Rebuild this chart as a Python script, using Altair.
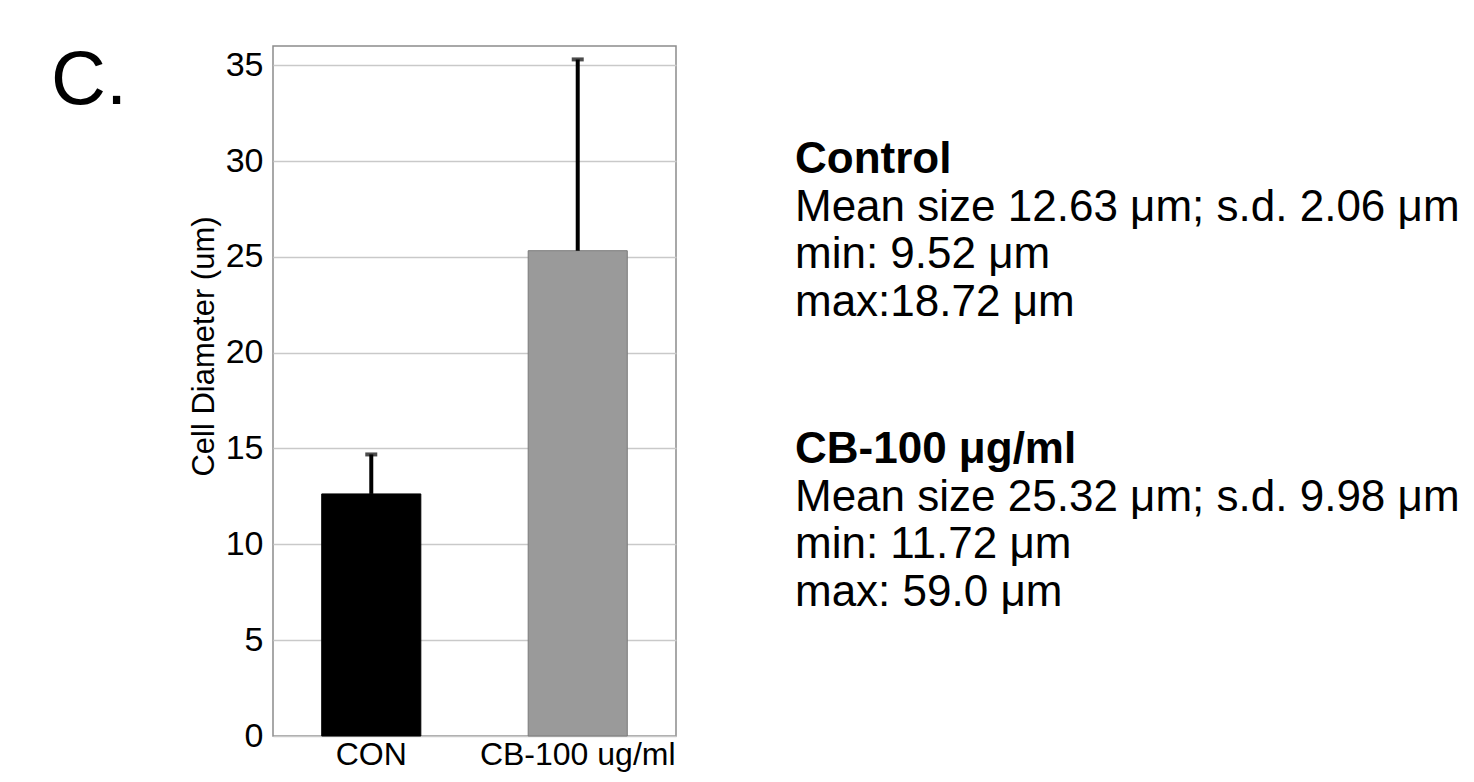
import altair as alt
import pandas as pd

# ---- data ----
groups = ["CON", "CB-100 ug/ml"]
means = [12.63, 25.32]
sds = [2.06, 9.98]
bar_colors = ["#000000", "#9a9a9a"]
bar_strokes = ["#000000", "#7a7a7a"]
y_ticks = [0, 5, 10, 15, 20, 25, 30, 35]

panel_label = "C."
control_title = "Control"
control_lines = ["Mean size 12.63 μm; s.d. 2.06 μm", "min: 9.52 μm", "max:18.72 μm"]
cb_title = "CB-100 μg/ml"
cb_lines = ["Mean size 25.32 μm; s.d. 9.98 μm", "min: 11.72 μm", "max: 59.0 μm"]

df = pd.DataFrame({
    "group": groups,
    "mean": means,
    "sd": sds,
    "color": bar_colors,
    "stroke": bar_strokes,
})
df["upper"] = df["mean"] + df["sd"]

SANS = "Liberation Sans, Arial, Helvetica"

x_enc = alt.X(
    "group:N",
    sort=groups,
    scale=alt.Scale(paddingInner=0.52, paddingOuter=0.236),
    axis=alt.Axis(
        title=None, labelAngle=0, ticks=False, tickSize=0, domain=False,
        labelFont=SANS, labelFontSize=32, labelColor="#000000",
        labelPadding=3, labelBaseline="top", labelLimit=0,
    ),
)
y_scale = alt.Scale(domain=[0, 36], nice=False, zero=True)

bars = alt.Chart(df).mark_bar(strokeWidth=1).encode(
    x=x_enc,
    y=alt.Y(
        "mean:Q",
        scale=y_scale,
        axis=alt.Axis(
            values=y_ticks, grid=True, gridColor="#c9c9c9", gridWidth=1.5,
            ticks=False, domain=False,
            labelFont=SANS, labelFontSize=34, labelColor="#000000",
            labelPadding=10, labelBaseline="middle",
            title="Cell Diameter (um)", titleFont=SANS, titleFontSize=31,
            titleFontWeight="normal", titleColor="#000000",
            titleAngle=270, titleX=-60, titleY=300, titleAlign="center",
            titleBaseline="alphabetic",
        ),
    ),
    fill=alt.Color("color:N", scale=None),
    stroke=alt.Color("stroke:N", scale=None),
)

err = alt.Chart(df).mark_rule(color="#000000", strokeWidth=4).encode(
    x=alt.X("group:N", sort=groups),
    y=alt.Y("mean:Q", scale=y_scale),
    y2="upper:Q",
)

caps = alt.Chart(df).mark_tick(color="#000000", size=12, thickness=4).encode(
    x=alt.X("group:N", sort=groups),
    y=alt.Y("upper:Q", scale=y_scale),
)

label_df = pd.DataFrame({"t": [panel_label]})
panel = alt.Chart(label_df).mark_text(
    font=SANS, fontSize=76, align="left", baseline="alphabetic", color="#000000"
).encode(text="t:N", x=alt.value(-222), y=alt.value(58))

def block(title, lines, y_title):
    tdf = pd.DataFrame({"t": [title]})
    ldf = pd.DataFrame({"t": ["\n".join(lines)]})
    head = alt.Chart(tdf).mark_text(
        font=SANS, fontSize=44, fontWeight="bold", align="left",
        baseline="alphabetic", color="#000000",
    ).encode(text="t:N", x=alt.value(522), y=alt.value(y_title))
    body = alt.Chart(ldf).mark_text(
        font=SANS, fontSize=44, align="left", baseline="alphabetic",
        color="#000000", lineBreak="\n", lineHeight=47.5,
    ).encode(text="t:N", x=alt.value(522), y=alt.value(y_title + 47.5))
    return head + body

ctrl = block(control_title, control_lines, 127)
cb = block(cb_title, cb_lines, 417)

chart = alt.layer(bars, err, caps, panel, ctrl, cb).properties(
    width=403,
    height=690,
    autosize="none",
    padding={"left": 265, "top": 38, "right": 790, "bottom": 38},
    background="#ffffff",
).configure_view(
    stroke="#8c8c8c", strokeWidth=1.5
)

chart.save("out.html", embed_options={"renderer": "svg", "actions": False})
